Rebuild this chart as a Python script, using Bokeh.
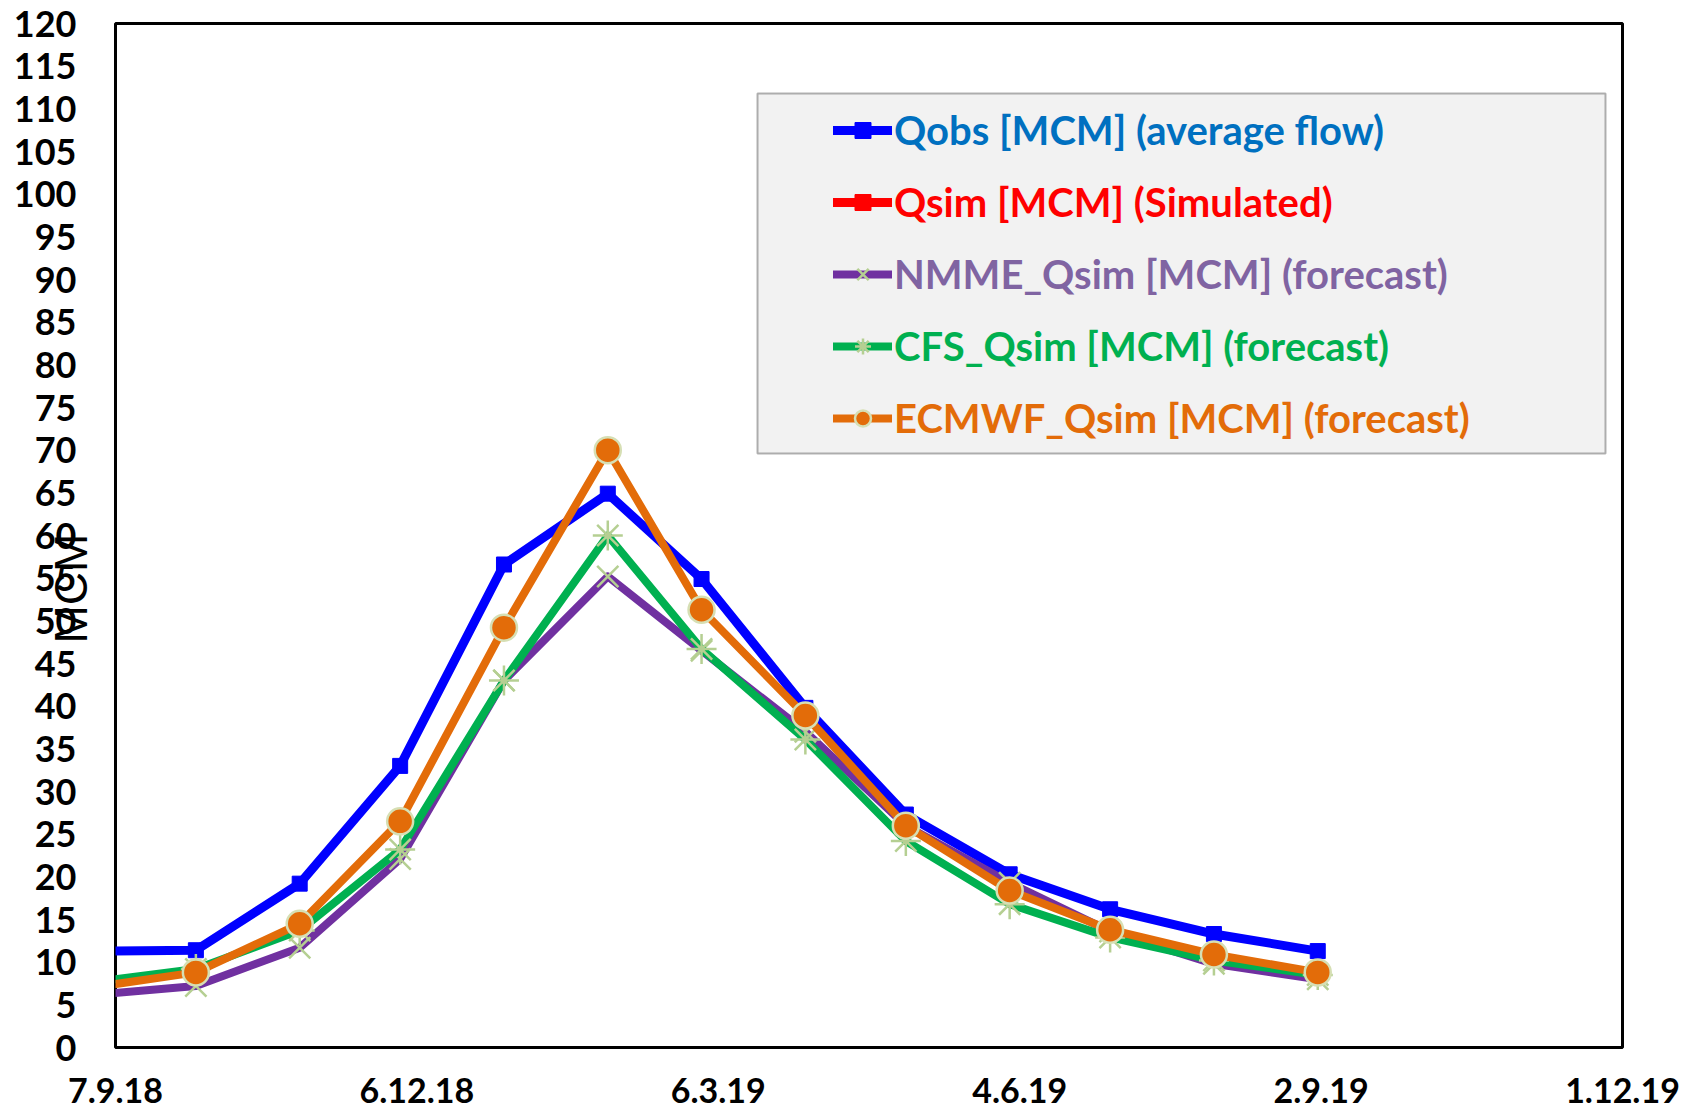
import pandas as pd
from bokeh.plotting import figure
from bokeh.models import (Range1d, FixedTicker, Legend, LegendItem, Title,
                          BoxAnnotation, ColumnDataSource)
from bokeh.embed import file_html
from bokeh.resources import INLINE

# ---------------- data ----------------
dates = ["1.9.18", "1.10.18", "1.11.18", "1.12.18", "1.1.19", "1.2.19", "1.3.19",
         "1.4.19", "1.5.19", "1.6.19", "1.7.19", "1.8.19", "1.9.19"]
qobs = [11.3, 11.4, 19.2, 33.0, 56.6, 64.9, 54.9, 39.8, 27.3, 20.3, 16.2, 13.3, 11.3]
nan = float("nan")
qsim = [nan] * 13  # listed in the legend, no values shown in the chart
nmme = [6.2, 7.2, 11.7, 22.1, 43.0, 55.2, 46.5, 37.0, 26.0, 19.3, 13.6, 9.8, 8.0]
cfs = [7.7, 9.2, 13.7, 23.2, 43.0, 60.0, 46.7, 36.1, 24.2, 16.8, 12.9, 10.2, 8.5]
ecmwf = [7.1, 8.8, 14.5, 26.5, 49.2, 70.0, 51.3, 38.9, 26.0, 18.4, 13.8, 10.9, 8.8]
xtick_labels = ["7.9.18", "6.12.18", "6.3.19", "4.6.19", "2.9.19", "1.12.19"]
ytick_values = list(range(0, 121, 5))
names = ["Qobs [MCM] (average flow)", "Qsim [MCM] (Simulated)",
         "NMME_Qsim [MCM] (forecast)", "CFS_Qsim [MCM] (forecast)",
         "ECMWF_Qsim [MCM] (forecast)"]
y_title = "MCM"

start = pd.to_datetime(xtick_labels[0], format="%d.%m.%y")
def day(s):
    return (pd.to_datetime(s, format="%d.%m.%y") - start).days

x = [day(d) for d in dates]
xticks = [day(t) for t in xtick_labels]

# ---------------- figure ----------------
W, H = 1682, 1111
BL, BR, BT, BB = 115, 60, 23, 64
p = figure(width=W, height=H, output_backend="svg", toolbar_location=None,
           x_range=Range1d(xticks[0], xticks[-1]), y_range=Range1d(0, 120),
           min_border_left=BL, min_border_right=BR, min_border_top=BT,
           min_border_bottom=BB)
p.background_fill_color = "white"
p.border_fill_color = "white"
p.outline_line_color = "black"
p.outline_line_width = 3
p.xgrid.visible = False
p.ygrid.visible = False

p.xaxis.ticker = FixedTicker(ticks=xticks)
p.xaxis.major_label_overrides = {t: l for t, l in zip(xticks, xtick_labels)}
p.yaxis.ticker = FixedTicker(ticks=ytick_values)
for ax in (p.xaxis[0], p.yaxis[0]):
    ax.axis_line_color = None
    ax.major_tick_line_color = None
    ax.minor_tick_line_color = None
    ax.major_tick_out = 0
    ax.major_tick_in = 0
    ax.major_label_text_font = "Lato"
    ax.major_label_text_font_style = "bold"
    ax.major_label_text_color = "black"
p.xaxis.major_label_text_font_size = "34px"
p.yaxis.major_label_text_font_size = "36px"
p.xaxis.major_label_standoff = 30

# vertical title placed next to the frame, tick labels overlap it (as in the reference)
TITLE_STANDOFF = 35
ytitle = Title(text=y_title, align="left", offset=404, vertical_align="middle",
               text_font="Liberation Sans", text_font_style="normal",
               text_font_size="46px", text_color="black",
               standoff=TITLE_STANDOFF)
title_extent = TITLE_STANDOFF + 55
yaxis = p.yaxis[0]
yaxis.major_label_standoff = 40 - title_extent
p.left = [ytitle, yaxis]

# legend background box (drawn first)
frame_w = W - BL - BR
frame_h = H - BT - BB
def sx_to_x(px):
    return xticks[0] + (px - BL) / frame_w * (xticks[-1] - xticks[0])
def sy_to_y(py):
    return (H - BB - py) / frame_h * 120
p.add_layout(BoxAnnotation(left=sx_to_x(757), right=sx_to_x(1605),
                           top=sy_to_y(93), bottom=sy_to_y(453),
                           fill_color="#f2f2f2", fill_alpha=1,
                           line_color="black", line_width=2, level="underlay"))

marker_line = "#b5cf92"
series = [
    dict(y=qobs, color="#0000ff", width=9, marker="square", size=15,
         mfill="#0000ff", mline="#0000ff", mlw=1, tcolor="#0070c0"),
    dict(y=qsim, color="#ff0000", width=9, marker="square", size=15,
         mfill="#ff0000", mline="#ff0000", mlw=1, tcolor="#ff0000"),
    dict(y=nmme, color="#7030a0", width=8, marker="x", size=30,
         mfill=marker_line, mline=marker_line, mlw=2.5, tcolor="#8064a2"),
    dict(y=cfs, color="#00b050", width=8, marker="asterisk", size=30,
         mfill=marker_line, mline=marker_line, mlw=2.5, tcolor="#00b050"),
    dict(y=ecmwf, color="#e36c09", width=8, marker="circle", size=26,
         mfill="#e36c09", mline="#d6dfb4", mlw=2.5, tcolor="#e36c09"),
]

row_centers = [134, 206, 278, 350, 422]
for s, name, rc in zip(series, names, row_centers):
    src = ColumnDataSource(dict(x=x, y=s["y"]))
    lr = p.line("x", "y", source=src, line_color=s["color"], line_width=s["width"],
                line_join="round", line_cap="round")
    mr = p.scatter("x", "y", source=src, marker=s["marker"], size=s["size"],
                   fill_color=s["mfill"], line_color=s["mline"],
                   line_width=s["mlw"])
    gh = 40
    vy = frame_h - (rc - BT) - gh / 2
    leg = Legend(items=[LegendItem(label=name, renderers=[lr, mr])],
                 location=(833 - BL, vy), padding=0, spacing=0, margin=0,
                 glyph_width=59, glyph_height=gh, label_height=gh,
                 label_standoff=2, label_text_font="Lato",
                 label_text_font_style="bold", label_text_font_size="40px",
                 label_text_color=s["tcolor"], background_fill_alpha=0,
                 border_line_color=None)
    p.add_layout(leg)

open("out.html", "w").write(file_html(p, INLINE))
